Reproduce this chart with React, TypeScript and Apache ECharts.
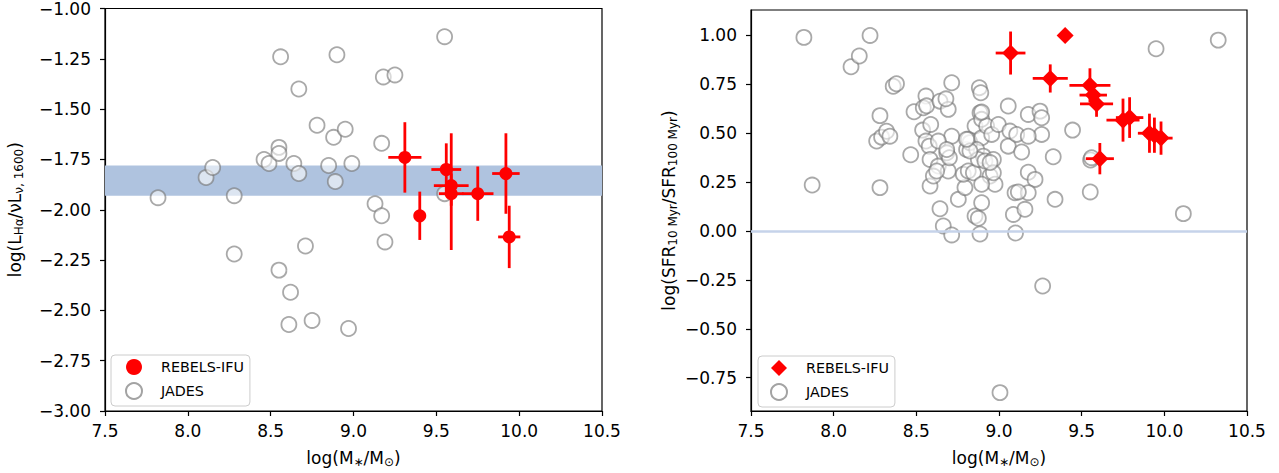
import React, { useEffect, useRef } from "react";
import * as echarts from "echarts";

// ---------- Left panel data ----------
const jadesLeftX = [7.82, 8.11, 8.15, 8.28, 8.28, 8.46, 8.49, 8.55, 8.55, 8.56, 8.55, 8.62, 8.61, 8.64, 8.67, 8.67, 8.71, 8.75, 8.78, 8.85, 8.89, 8.88, 8.9, 8.95, 8.99, 8.97, 9.13, 9.17, 9.17, 9.19, 9.18, 9.25, 9.55, 9.55];
const jadesLeftY = [-1.94, -1.84, -1.79, -1.93, -2.22, -1.75, -1.77, -1.69, -1.72, -1.24, -2.3, -2.41, -2.57, -1.77, -1.82, -1.4, -2.18, -2.55, -1.58, -1.78, -1.86, -1.64, -1.23, -1.6, -1.77, -2.59, -1.97, -2.03, -1.67, -2.16, -1.34, -1.33, -1.14, -1.92];

const rebelsLeftX = [9.31, 9.4, 9.56, 9.59, 9.59, 9.75, 9.92, 9.94];
const rebelsLeftY = [-1.74, -2.03, -1.8, -1.88, -1.92, -1.92, -1.82, -2.135];
const rebelsLeftXErr = [0.1, 0.0, 0.09, 0.105, 0.075, 0.095, 0.083, 0.067];
const rebelsLeftYErrUp = [0.175, 0.12, 0.13, 0.26, 0.1, 0.135, 0.2, 0.155];
const rebelsLeftYErrDown = [0.175, 0.12, 0.13, 0.1, 0.28, 0.135, 0.2, 0.155];

const bandLow = -1.93;
const bandHigh = -1.78;

// ---------- Right panel data ----------
const jadesRightX = [7.82, 8.22, 8.105, 8.155, 7.87, 8.28, 8.28, 8.26, 8.29, 8.32, 8.34, 8.36, 8.38, 8.466, 8.486, 8.538, 8.558, 8.542, 8.562, 8.587, 8.558, 8.578, 8.583, 8.583, 8.643, 8.663, 8.714, 8.714, 8.643, 8.693, 8.679, 8.714, 8.633, 8.633, 8.684, 8.693, 8.7, 8.603, 8.623, 8.684, 8.754, 8.794, 8.784, 8.814, 8.845, 8.804, 8.824, 8.814, 8.855, 8.885, 8.881, 8.89, 8.895, 8.895, 8.865, 8.905, 8.875, 8.915, 8.946, 8.976, 8.895, 8.855, 8.875, 8.895, 8.885, 8.925, 8.956, 8.996, 8.966, 8.966, 9.056, 9.066, 9.056, 9.107, 9.087, 9.097, 9.1, 9.177, 9.248, 9.258, 9.258, 9.177, 9.137, 8.895, 8.824, 8.946, 9.445, 9.328, 9.554, 9.56, 9.552, 9.339, 9.177, 9.218, 9.177, 9.117, 9.157, 9.95, 10.326, 10.115, 9.264, 9.006, 8.804];
const jadesRightY = [0.99, 1.0, 0.84, 0.895, 0.235, 0.222, 0.59, 0.46, 0.48, 0.51, 0.485, 0.74, 0.753, 0.39, 0.61, 0.516, 0.69, 0.63, 0.64, 0.545, 0.46, 0.434, 0.366, 0.23, 0.114, 0.026, -0.02, 0.758, 0.664, 0.622, 0.676, 0.485, 0.46, 0.332, 0.4, 0.307, 0.375, 0.281, 0.307, 0.417, 0.162, 0.222, 0.29, 0.307, 0.298, 0.417, 0.452, 0.469, 0.537, 0.605, 0.733, 0.707, 0.571, 0.477, 0.417, 0.383, 0.366, 0.358, 0.281, 0.239, 0.239, 0.077, 0.065, 0.145, -0.015, 0.537, 0.494, 0.545, 0.366, 0.298, 0.639, 0.511, 0.434, 0.494, 0.085, 0.196, -0.01, 0.596, 0.613, 0.579, 0.494, 0.485, 0.404, 0.608, 0.409, 0.35, 0.516, 0.38, 0.363, 0.375, 0.2, 0.162, 0.301, 0.264, 0.196, 0.2, 0.111, 0.932, 0.976, 0.089, -0.281, -0.826, 0.469];

const rebelsRightX = [9.07, 9.4, 9.31, 9.55, 9.57, 9.59, 9.75, 9.79, 9.91, 9.94, 9.98, 9.61];
const rebelsRightY = [0.91, 1.0, 0.78, 0.745, 0.695, 0.65, 0.567, 0.58, 0.5, 0.49, 0.475, 0.37];
const rebelsRightXErr = [0.09, 0, 0.106, 0.124, 0.083, 0.1, 0.1, 0.083, 0.07, 0.06, 0.07, 0.085];
const rebelsRightYErr = [0.11, 0, 0.072, 0.087, 0.05, 0.066, 0.11, 0.104, 0.1, 0.09, 0.085, 0.08];

const refLineY = 0;

const rightYTicks = [-0.75, -0.5, -0.25, 0.0, 0.25, 0.5, 0.75, 1.0];

const FONT = "DejaVu Sans";
const RED = "#ff0000";

const fmt = (v: number, d: number) => v.toFixed(d).replace("-", "\u2212");

const errorBarRender = (params: any, api: any) => {
  const x = api.value(0);
  const y = api.value(1);
  const xl = api.value(2);
  const xh = api.value(3);
  const yl = api.value(4);
  const yh = api.value(5);
  const a = api.coord([xl, y]);
  const b = api.coord([xh, y]);
  const c = api.coord([x, yl]);
  const d = api.coord([x, yh]);
  const children: any[] = [];
  if (xh > xl) {
    children.push({ type: "line", shape: { x1: a[0], y1: a[1], x2: b[0], y2: b[1] }, style: { stroke: RED, lineWidth: 2.8 } });
  }
  if (yh > yl) {
    children.push({ type: "line", shape: { x1: c[0], y1: c[1], x2: d[0], y2: d[1] }, style: { stroke: RED, lineWidth: 2.8 } });
  }
  return { type: "group", children };
};

const richText = {
  n: { fontSize: 17, fontFamily: FONT, color: "#000" },
  s: { fontSize: 12, fontFamily: FONT, color: "#000", padding: [9, 0, 0, 0] },
};

const axisCommon = {
  axisLine: { show: true, onZero: false, lineStyle: { color: "#000", width: 1.2 } },
  axisTick: { show: true, inside: false, length: 5, lineStyle: { color: "#000", width: 1.2 } },
  splitLine: { show: false },
};

const jadesStyle = {
  color: "rgba(255,255,255,0.7)",
  borderColor: "rgba(120,120,120,0.8)",
  borderWidth: 1.8,
};

export default function App() {
  const ref = useRef<HTMLDivElement>(null);

  useEffect(() => {
    if (!ref.current) return;
    const chart = echarts.init(ref.current, null, { renderer: "svg" });

    const leftJades = jadesLeftX.map((x, i) => [x, jadesLeftY[i]]);
    const leftRebels = rebelsLeftX.map((x, i) => [x, rebelsLeftY[i]]);
    const leftErr = rebelsLeftX.map((x, i) => [
      x,
      rebelsLeftY[i],
      x - rebelsLeftXErr[i],
      x + rebelsLeftXErr[i],
      rebelsLeftY[i] - rebelsLeftYErrDown[i],
      rebelsLeftY[i] + rebelsLeftYErrUp[i],
    ]);
    const rightJades = jadesRightX.map((x, i) => [x, jadesRightY[i]]);
    const rightRebels = rebelsRightX.map((x, i) => [x, rebelsRightY[i]]);
    const rightErr = rebelsRightX.map((x, i) => [
      x,
      rebelsRightY[i],
      x - rebelsRightXErr[i],
      x + rebelsRightXErr[i],
      rebelsRightY[i] - rebelsRightYErr[i],
      rebelsRightY[i] + rebelsRightYErr[i],
    ]);

    const legendBase = {
      orient: "vertical",
      borderColor: "#cccccc",
      borderWidth: 1,
      borderRadius: 4,
      backgroundColor: "rgba(255,255,255,0.8)",
      itemWidth: 16,
      itemHeight: 16,
      itemGap: 7,
      selectedMode: false,
      textStyle: { fontFamily: FONT, fontSize: 14.3, color: "#000", lineHeight: 16, padding: [0, 0, 0, 14] },
    };

    chart.setOption({
      animation: false,
      textStyle: { fontFamily: FONT },
      grid: [
        { left: 105, top: 8, width: 497, height: 404, show: true, borderColor: "#000", borderWidth: 1.2, backgroundColor: "transparent" },
        { left: 751, top: 10, width: 496, height: 402, show: true, borderColor: "#000", borderWidth: 1.2, backgroundColor: "transparent" },
      ],
      legend: [
        {
          ...legendBase,
          left: 111,
          top: 355,
          padding: [4, 6, 6, 14],
          data: [
            { name: "REBELS-IFU", icon: "circle", itemStyle: { color: RED, borderWidth: 0, opacity: 1 } },
            { name: "JADES", icon: "circle", itemStyle: { ...jadesStyle, borderColor: "#8c8c8c", borderWidth: 2 } },
          ],
        },
        {
          ...legendBase,
          left: 758,
          top: 356,
          padding: [4, 6, 6, 12],
          data: [
            { name: "REBELS-IFU", icon: "diamond", itemStyle: { color: RED, borderWidth: 0, opacity: 1 } },
            { name: "JADES", icon: "circle", itemStyle: { ...jadesStyle, borderColor: "#8c8c8c", borderWidth: 2 } },
          ],
        },
      ],
      xAxis: [
        {
          type: "value",
          gridIndex: 0,
          min: 7.5,
          max: 10.5,
          interval: 0.5,
          ...axisCommon,
          axisLabel: { fontSize: 17, color: "#000", fontFamily: FONT, margin: 11, formatter: (v: number) => fmt(v, 1) },
          name: "log(M{s|∗}/M{s|⊙})",
          nameLocation: "middle",
          nameGap: 36,
          nameTextStyle: { fontSize: 17, color: "#000", fontFamily: FONT, rich: richText },
        },
        {
          type: "value",
          gridIndex: 1,
          min: 7.5,
          max: 10.5,
          interval: 0.5,
          ...axisCommon,
          axisLabel: { fontSize: 17, color: "#000", fontFamily: FONT, margin: 11, formatter: (v: number) => fmt(v, 1) },
          name: "log(M{s|∗}/M{s|⊙})",
          nameLocation: "middle",
          nameGap: 36,
          nameTextStyle: { fontSize: 17, color: "#000", fontFamily: FONT, rich: richText },
        },
      ],
      yAxis: [
        {
          type: "value",
          gridIndex: 0,
          min: -3,
          max: -1,
          interval: 0.25,
          ...axisCommon,
          axisLabel: { fontSize: 17, color: "#000", fontFamily: FONT, margin: 14, formatter: (v: number) => fmt(v, 2) },
          name: "log(L{s|Hα}/νL{s|ν, 1600})",
          nameLocation: "middle",
          nameRotate: 90,
          nameGap: 80,
          nameTextStyle: { fontSize: 17, color: "#000", fontFamily: FONT, rich: richText },
        },
        {
          type: "value",
          gridIndex: 1,
          min: -0.92,
          max: 1.13,
          ...axisCommon,
          axisTick: { ...axisCommon.axisTick, customValues: rightYTicks },
          axisLabel: { fontSize: 17, color: "#000", fontFamily: FONT, margin: 14, customValues: rightYTicks, formatter: (v: number) => fmt(v, 2) },
          name: "log(SFR{s|10 Myr}/SFR{s|100 Myr})",
          nameLocation: "middle",
          nameRotate: 90,
          nameGap: 72,
          nameTextStyle: { fontSize: 17, color: "#000", fontFamily: FONT, rich: richText },
        },
      ],
      series: [
        {
          name: "JADES",
          type: "scatter",
          xAxisIndex: 0,
          yAxisIndex: 0,
          data: leftJades,
          symbol: "circle",
          symbolSize: 15,
          itemStyle: jadesStyle,
          z: 2,
          markArea: {
            silent: true,
            itemStyle: { color: "#afc3df", opacity: 1 },
            data: [[{ yAxis: bandLow }, { yAxis: bandHigh }]],
          },
        },
        {
          name: "REBELS-IFU err L",
          type: "custom",
          xAxisIndex: 0,
          yAxisIndex: 0,
          renderItem: errorBarRender,
          data: leftErr,
          encode: { x: [0, 2, 3], y: [1, 4, 5] },
          z: 3,
          silent: true,
        },
        {
          name: "REBELS-IFU",
          type: "scatter",
          xAxisIndex: 0,
          yAxisIndex: 0,
          data: leftRebels,
          symbol: "circle",
          symbolSize: 13,
          itemStyle: { color: RED, opacity: 1 },
          z: 4,
        },
        {
          name: "JADES",
          type: "scatter",
          xAxisIndex: 1,
          yAxisIndex: 1,
          data: rightJades,
          symbol: "circle",
          symbolSize: 15,
          itemStyle: jadesStyle,
          z: 2,
          markLine: {
            silent: true,
            symbol: "none",
            label: { show: false },
            lineStyle: { color: "#c6d3ea", width: 2.5, type: "solid" },
            data: [{ yAxis: refLineY }],
          },
        },
        {
          name: "REBELS-IFU err R",
          type: "custom",
          xAxisIndex: 1,
          yAxisIndex: 1,
          renderItem: errorBarRender,
          data: rightErr,
          encode: { x: [0, 2, 3], y: [1, 4, 5] },
          z: 3,
          silent: true,
        },
        {
          name: "REBELS-IFU",
          type: "scatter",
          xAxisIndex: 1,
          yAxisIndex: 1,
          data: rightRebels,
          symbol: "diamond",
          symbolSize: 17,
          itemStyle: { color: RED, opacity: 1 },
          z: 4,
        },
      ],
    });

    return () => chart.dispose();
  }, []);

  return (
    <div
      ref={ref}
      style={{ position: "absolute", left: 0, top: 0, width: 1279, height: 473, background: "#fff" }}
    />
  );
}
